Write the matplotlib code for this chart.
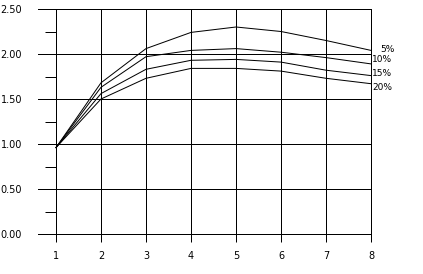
import numpy as np
import matplotlib
matplotlib.use("Agg")
import matplotlib.pyplot as plt

years = [1, 2, 3, 4, 5, 6, 7, 8]
rate_labels = ["5%", "10%", "15%", "20%"]
r05 = [0.96, 1.68, 2.06, 2.24, 2.30, 2.25, 2.15, 2.04]
r10 = [0.96, 1.63, 1.97, 2.04, 2.06, 2.02, 1.96, 1.89]
r15 = [0.96, 1.56, 1.83, 1.93, 1.94, 1.91, 1.82, 1.76]
r20 = [0.96, 1.50, 1.73, 1.84, 1.84, 1.81, 1.73, 1.67]
yticks = [0.0, 0.5, 1.0, 1.5, 2.0, 2.5]
yminor = [0.25, 0.75, 1.25, 1.75, 2.25]

px = 0.72  # one pixel in points at dpi 100

fig = plt.figure(figsize=(4.23, 2.74), dpi=100)
ax = fig.add_axes([38 / 423, 40 / 274, 333 / 423, 225 / 274])
ax.set_xlim(0.6, 8)
ax.set_ylim(0, 2.5)

for s in ["top", "left", "bottom"]:
    ax.spines[s].set_visible(False)
ax.spines["right"].set_linewidth(px)
ax.spines["right"].set_color("black")

# grid
for y in yticks:
    ax.axhline(y, color="black", lw=px, clip_on=False)
for x in years:
    ax.axvline(x, color="black", lw=px)
ax.hlines(yminor, 0.76, 1.0, color="black", lw=px)

ax.set_xticks(years)
ax.set_xticklabels([str(x) for x in years])
ax.tick_params(axis="x", direction="out", length=6, width=px, pad=6, labelsize=7)
ax.set_yticks(yticks)
ax.set_yticklabels(["%.2f" % y for y in yticks])
ax.tick_params(axis="y", length=0, pad=11.5, labelsize=7)

# label nudges (points) so the end labels don't collide
nudge = [(6.5, 1), (1, 3), (1, 1.5), (1, -2.5)]
for series, lab, (dx, dy) in zip([r05, r10, r15, r20], rate_labels, nudge):
    ax.plot(years, series, color="black", lw=px, clip_on=False)
    ax.annotate(lab, (years[-1], series[-1]), xytext=(dx, dy), textcoords="offset points",
                fontsize=6.5, ha="left", va="center", annotation_clip=False)

fig.savefig("out.png", dpi=100)
